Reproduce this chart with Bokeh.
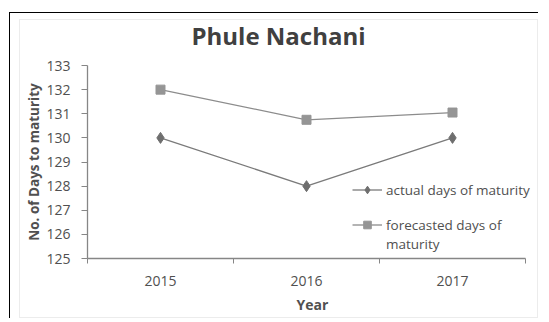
from bokeh.plotting import figure
from bokeh.layouts import column
from bokeh.models import FixedTicker, Legend, LegendItem, ColumnDataSource, Range1d, Div
from bokeh.embed import file_html
from bokeh.resources import INLINE

title_text = "Phule Nachani"
years = ["2015", "2016", "2017"]
actual = [130, 128, 130]
forecast = [132, 130.75, 131.05]
y_ticks = [125, 126, 127, 128, 129, 130, 131, 132, 133]
series_names = ["actual days of maturity", "forecasted days of", "maturity"]

xpos = [i + 0.5 for i in range(len(years))]
src = ColumnDataSource(dict(x=xpos, actual=actual, forecast=forecast))
empty = ColumnDataSource(dict(x=[], y=[]))

FONT = "Open Sans"
TXT = "#505050"
AX = "#868686"

FIG_W, FIG_H = 517, 265
B_LEFT, B_RIGHT, B_TOP, B_BOTTOM = 67, 0, 13, 59
AXIS_W = 438  # pixel length of the category axis
frame_w = FIG_W - B_LEFT - B_RIGHT
x_end = len(years) * frame_w / AXIS_W

p = figure(width=FIG_W, height=FIG_H, output_backend="svg", toolbar_location=None,
           x_range=Range1d(0, x_end), y_range=Range1d(y_ticks[0], y_ticks[-1]),
           min_border_left=B_LEFT, min_border_top=B_TOP,
           min_border_right=B_RIGHT, min_border_bottom=B_BOTTOM, margin=0)
p.outline_line_color = None
p.xgrid.visible = False
p.ygrid.visible = False

xa = p.xaxis[0]
xa.bounds = (0, len(years))
xa.ticker = FixedTicker(ticks=xpos, minor_ticks=list(range(len(years) + 1)))
xa.major_label_overrides = {x: y for x, y in zip(xpos, years)}
xa.major_tick_line_color = None
xa.minor_tick_out = 5
xa.minor_tick_in = 0
xa.minor_tick_line_color = AX
xa.axis_line_color = AX
xa.axis_line_width = 1.3
xa.major_label_text_font = FONT
xa.major_label_text_font_size = "14px"
xa.major_label_text_color = TXT
xa.major_label_standoff = 11
xa.axis_label = "Year"
xa.axis_label_text_font = FONT
xa.axis_label_text_font_size = "14px"
xa.axis_label_text_font_style = "bold"
xa.axis_label_text_color = TXT
xa.axis_label_standoff = 6

ya = p.yaxis[0]
ya.ticker = FixedTicker(ticks=y_ticks)
ya.minor_tick_line_color = None
ya.major_tick_out = 6
ya.major_tick_in = 0
ya.major_tick_line_color = AX
ya.axis_line_color = AX
ya.axis_line_width = 1.3
ya.major_label_text_font = FONT
ya.major_label_text_font_size = "14px"
ya.major_label_text_color = TXT
ya.major_label_standoff = 11
ya.axis_label = "No. of Days to maturity"
ya.axis_label_text_font = FONT
ya.axis_label_text_font_size = "13.5px"
ya.axis_label_text_font_style = "bold"
ya.axis_label_text_color = TXT
ya.axis_label_standoff = 0

l1 = p.line("x", "actual", source=src, line_color="#7a7a7a", line_width=1.3)
m1 = p.scatter("x", "actual", source=src, marker="diamond", size=11,
               fill_color="#6e6e6e", line_color="#6e6e6e")
l2 = p.line("x", "forecast", source=src, line_color="#8c8c8c", line_width=1.3)
m2 = p.scatter("x", "forecast", source=src, marker="square", size=9,
               fill_color="#959595", line_color="#959595")
blank = p.scatter("x", "y", source=empty, fill_alpha=0, line_alpha=0)


def style_legend(lg):
    lg.border_line_color = None
    lg.background_fill_alpha = 0
    lg.label_text_font = FONT
    lg.label_text_font_size = "13.5px"
    lg.label_text_color = TXT
    lg.glyph_width = 30
    lg.glyph_height = 19
    lg.label_height = 19
    lg.label_standoff = 4
    lg.spacing = 0
    lg.padding = 0
    lg.margin = 0
    p.add_layout(lg, "center")


legend_a = Legend(items=[LegendItem(label=series_names[0], renderers=[l1, m1])],
                  location=(265, 59))
legend_b = Legend(items=[
    LegendItem(label=series_names[1], renderers=[l2, m2]),
    LegendItem(label=series_names[2], renderers=[blank]),
], location=(265, 5))
style_legend(legend_a)
style_legend(legend_b)

title = Div(text=title_text, width=FIG_W, height=32, margin=0,
            styles={"text-align": "center", "font-family": FONT, "font-size": "24px",
                    "font-weight": "bold", "color": "#404040", "line-height": "32px"})

inner = column(title, p, margin=(6, 0, 0, 9), spacing=0,
               styles={"border": "1px solid #ececec"})
layout = column(inner, margin=(12, 0, 0, 9), spacing=0,
                styles={"border-left": "1px solid black", "border-top": "1px solid black"})

open("out.html", "w").write(file_html(layout, INLINE))
